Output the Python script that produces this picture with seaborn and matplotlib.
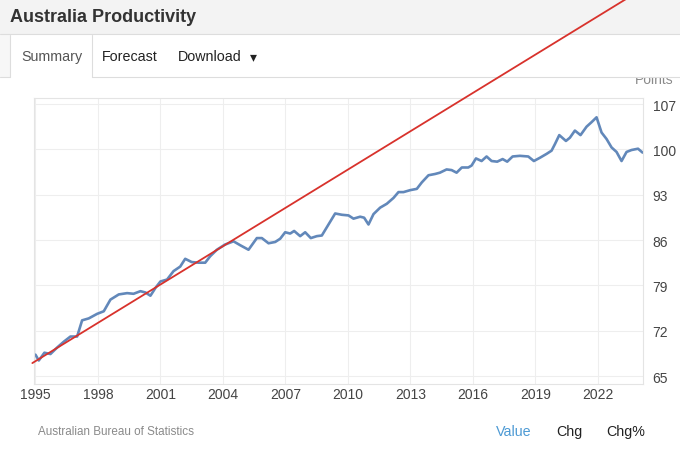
import numpy as np
import pandas as pd
import matplotlib
matplotlib.use("Agg")
import matplotlib.pyplot as plt
import seaborn as sns
from matplotlib.patches import Rectangle
from matplotlib.lines import Line2D

# --------------------------
# data
# --------------------------
years = [1995.00, 1995.16, 1995.43, 1995.72, 1996.04, 1996.36, 1996.68, 1997.00,
         1997.24, 1997.56, 1997.96, 1998.28, 1998.60, 1999.00, 1999.40, 1999.71,
         2000.04, 2000.28, 2000.52, 2000.76, 2001.00, 2001.32, 2001.63, 2001.95,
         2002.19, 2002.50, 2002.83, 2003.15, 2003.39, 2003.71, 2004.10, 2004.51,
         2004.83, 2005.23, 2005.63, 2005.87, 2006.19, 2006.51, 2006.75, 2006.99,
         2007.23, 2007.42, 2007.71, 2007.95, 2008.22, 2008.51, 2008.75, 2009.07,
         2009.39, 2009.71, 2010.03, 2010.27, 2010.59, 2010.78, 2010.99, 2011.23,
         2011.55, 2011.87, 2012.19, 2012.43, 2012.67, 2012.99, 2013.31, 2013.55,
         2013.87, 2014.19, 2014.42, 2014.74, 2014.98, 2015.22, 2015.47, 2015.78,
         2015.94, 2016.15, 2016.42, 2016.66, 2016.90, 2017.17, 2017.43, 2017.65,
         2017.91, 2018.26, 2018.66, 2018.93, 2019.22, 2019.54, 2019.78, 2019.94,
         2020.15, 2020.47, 2020.66, 2020.90, 2021.17, 2021.46, 2021.70, 2021.94,
         2022.18, 2022.42, 2022.66, 2022.90, 2023.14, 2023.38, 2023.62, 2023.93,
         2024.15]
productivity = [68.3, 67.4, 68.6, 68.4, 69.4, 70.3, 71.1, 71.1,
                73.6, 73.9, 74.6, 75.0, 76.8, 77.6, 77.8, 77.7,
                78.1, 77.9, 77.4, 78.6, 79.6, 79.9, 81.2, 81.9,
                83.1, 82.6, 82.5, 82.5, 83.5, 84.5, 85.3, 85.8,
                85.2, 84.5, 86.3, 86.3, 85.5, 85.7, 86.2, 87.2,
                87.0, 87.4, 86.6, 87.2, 86.3, 86.6, 86.7, 88.4,
                90.1, 89.9, 89.8, 89.3, 89.6, 89.45, 88.4, 90.0,
                91.0, 91.6, 92.5, 93.4, 93.4, 93.7, 93.9, 94.9,
                96.0, 96.2, 96.4, 96.9, 96.8, 96.4, 97.2, 97.2,
                97.5, 98.6, 98.2, 98.9, 98.2, 98.1, 98.5, 98.1,
                98.9, 99.0, 98.9, 98.2, 98.7, 99.3, 99.8, 100.8,
                102.2, 101.3, 101.8, 102.9, 102.2, 103.5, 104.2, 104.95,
                102.6, 101.6, 100.3, 99.6, 98.2, 99.6, 99.9, 100.1,
                99.5]

# hand drawn trend line (red), runs off the top of the panel
trend_years = [1994.85, 2023.35]
trend_values = [67.0, 123.2]

x_ticks = list(range(1995, 2023, 3))
y_ticks = [65, 72, 79, 86, 93, 100, 107]

# --------------------------
# plot
# --------------------------
W, H = 680, 452
sns.set_theme(style="whitegrid")
plt.rcParams["font.family"] = ["Liberation Sans", "DejaVu Sans"]

fig = plt.figure(figsize=(W / 100, H / 100), dpi=100)
fig.patch.set_facecolor("white")

def px_rect(x0, y0, x1, y1, **kw):
    # rectangle in pixel coords (origin top-left)
    r = Rectangle((x0 / W, 1 - y1 / H), (x1 - x0) / W, (y1 - y0) / H,
                  transform=fig.transFigure, **kw)
    fig.add_artist(r)

def px_line(xs, ys, **kw):
    fig.add_artist(Line2D([x / W for x in xs], [1 - y / H for y in ys],
                          transform=fig.transFigure, **kw))

# header band + tabs
px_rect(0, 0, W, 35, facecolor="#f3f3f3", edgecolor="none", zorder=-2)
px_line([0, W], [35, 35], color="#dddddd", lw=0.8, zorder=-1.5)
px_rect(0, 36, 10, 78, facecolor="#f7f7f7", edgecolor="none", zorder=-2)
px_line([10, 10], [36, 78], color="#dddddd", lw=0.8, zorder=-1.5)
px_line([92, 92], [36, 78], color="#dddddd", lw=0.8, zorder=-1.5)
px_line([0, 10], [78, 78], color="#dddddd", lw=0.8, zorder=-1.5)

fig.text(10 / W, 1 - 18 / H, "Australia Productivity", fontsize=13,
         fontweight="bold", color="#333333", va="center", ha="left")
fig.text(21 / W, 1 - 57 / H, "Summary", fontsize=10.3, color="#555555", va="center")
fig.text(102 / W, 1 - 57 / H, "Forecast", fontsize=10.3, color="#222222", va="center")
fig.text(178 / W, 1 - 57 / H, "Download", fontsize=10.3, color="#222222", va="center")
fig.text(250 / W, 1 - 57 / H, "\u25be", fontsize=10, color="#222222", va="center",
         family=["DejaVu Sans"])

# "Points" unit label, cut by the tab border line
fig.text(635 / W, 1 - 83.5 / H, "Points", fontsize=10, color="#8a8a8a", va="baseline",
         zorder=-1.8)
px_rect(92, 60, W, 77.5, facecolor="white", edgecolor="none", zorder=-1.7)
px_line([92, W], [78, 78], color="#dddddd", lw=0.8, zorder=-1.5)

# footer
fig.text(38 / W, 1 - 432 / H, "Australian Bureau of Statistics", fontsize=8.4,
         color="#8a8a8a", va="center")
fig.text(496 / W, 1 - 432 / H, "Value", fontsize=10.3, color="#4d9ad4", va="center")
fig.text(556 / W, 1 - 432 / H, "Chg", fontsize=10.3, color="#222222", va="center")
fig.text(606 / W, 1 - 432 / H, "Chg%", fontsize=10.3, color="#222222", va="center")

ax = fig.add_axes([34 / W, 1 - 385 / H, (643 - 34) / W, (385 - 99) / H])
df = pd.DataFrame({"year": years, "value": productivity})
sns.lineplot(data=df, x="year", y="value", ax=ax, color="#6288ba", lw=1.9,
             solid_joinstyle="round", solid_capstyle="round")
ax.plot(trend_years, trend_values, color="#d8322c", lw=1.3, clip_on=False, zorder=5)

ax.set_xlim(1994.93, 2024.17)
ax.set_ylim(63.77, 107.93)
ax.set_xticks(x_ticks)
ax.set_yticks(y_ticks)
ax.yaxis.tick_right()
ax.tick_params(axis="both", length=0, labelsize=10, colors="#444444")
ax.tick_params(axis="x", pad=2)
ax.tick_params(axis="y", pad=7)
ax.set_xlabel("")
ax.set_ylabel("")
ax.grid(True, color="#eeeeee", lw=0.8)
for s in ax.spines.values():
    s.set_color("#e4e4e4")
    s.set_linewidth(0.8)

fig.savefig("out.png", dpi=100)
